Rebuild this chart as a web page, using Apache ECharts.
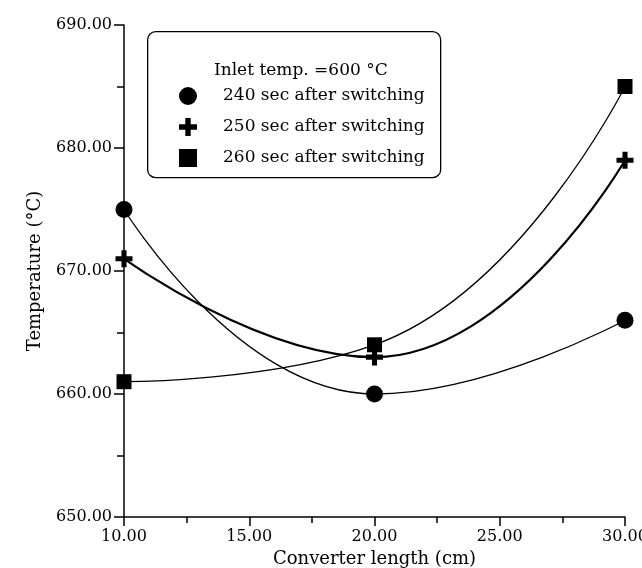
<!DOCTYPE html>
<html><head><meta charset="utf-8">
<script src="https://cdn.jsdelivr.net/npm/echarts@6/dist/echarts.min.js"></script>
<style>html,body{margin:0;padding:0;background:#fff}#c{width:642px;height:568px}</style>
</head><body><div id="c"></div>
<script>
const xValues = [10, 20, 30];
const s240 = [675, 660, 666];
const s250 = [671, 663, 679];
const s260 = [661, 664, 685];
const seriesNames = ['240 sec after switching', '250 sec after switching', '260 sec after switching'];
const legendTitle = 'Inlet temp. =600 °C';
const xName = 'Converter length (cm)';
const yName = 'Temperature (°C)';

const FONT = '"DejaVu Serif", "Liberation Serif", serif';
const PLUS = 'path://M3.5,0h3v3.5h3.5v3h-3.5v3.5h-3v-3.5h-3.5v-3h3.5z';
const pair = ys => xValues.map((x, i) => [x, ys[i]]);

const chart = echarts.init(document.getElementById('c'));
chart.setOption({
  animation: false,
  grid: { left: 124, right: 17, top: 25, bottom: 51, containLabel: false, outerBoundsMode: 'none' },
  xAxis: {
    type: 'value', min: 10, max: 30, interval: 5,
    name: xName, nameLocation: 'middle', nameGap: 29,
    nameTextStyle: { fontFamily: FONT, fontSize: 18, color: '#000' },
    axisLine: { lineStyle: { color: '#000', width: 1.5 } },
    axisTick: { inside: false, length: 9, lineStyle: { color: '#000', width: 1.5 } },
    minorTick: { show: true, splitNumber: 2, length: 6, lineStyle: { color: '#000', width: 1.5 } },
    axisLabel: { margin: 12, fontFamily: FONT, fontSize: 16, color: '#000', formatter: v => v.toFixed(2) },
    splitLine: { show: false }
  },
  yAxis: {
    type: 'value', min: 650, max: 690, interval: 10,
    name: yName, nameLocation: 'middle', nameGap: 80, nameRotate: 90,
    nameTextStyle: { fontFamily: FONT, fontSize: 18, color: '#000' },
    axisLine: { lineStyle: { color: '#000', width: 1.5 } },
    axisTick: { inside: false, length: 10, lineStyle: { color: '#000', width: 1.5 } },
    minorTick: { show: true, splitNumber: 2, length: 7, lineStyle: { color: '#000', width: 1.5 } },
    axisLabel: { margin: 12, fontFamily: FONT, fontSize: 16, color: '#000', formatter: v => v.toFixed(2) },
    splitLine: { show: false }
  },
  legend: {
    orient: 'vertical', left: 174, top: 82, itemGap: 13,
    itemWidth: 18, itemHeight: 18,
    textStyle: { fontFamily: FONT, fontSize: 17, color: '#000', padding: [0, 0, 0, 21] },
    data: [
      { name: seriesNames[0], icon: 'circle' },
      { name: seriesNames[1], icon: PLUS },
      { name: seriesNames[2], icon: 'rect' }
    ]
  },
  graphic: [
    { type: 'rect', left: 147, top: 31, shape: { width: 293, height: 146, r: 8 }, style: { fill: '#fff', stroke: '#000', lineWidth: 1.3 }, z: -1 },
    { type: 'text', left: 214, top: 62, style: { text: legendTitle, font: '17px ' + FONT, fill: '#000' } }
  ],
  series: [
    { name: seriesNames[0], type: 'line', smooth: 0.5, data: pair(s240), symbol: 'circle', symbolSize: 17,
      itemStyle: { color: '#000' }, lineStyle: { color: '#000', width: 1.3 } },
    { name: seriesNames[1], type: 'line', smooth: 0.5, data: pair(s250), symbol: PLUS, symbolSize: 17,
      itemStyle: { color: '#000' }, lineStyle: { color: '#000', width: 2.2 } },
    { name: seriesNames[2], type: 'line', smooth: 0.5, data: pair(s260), symbol: 'rect', symbolSize: 15,
      itemStyle: { color: '#000' }, lineStyle: { color: '#000', width: 1.3 } }
  ]
});
</script></body></html>
